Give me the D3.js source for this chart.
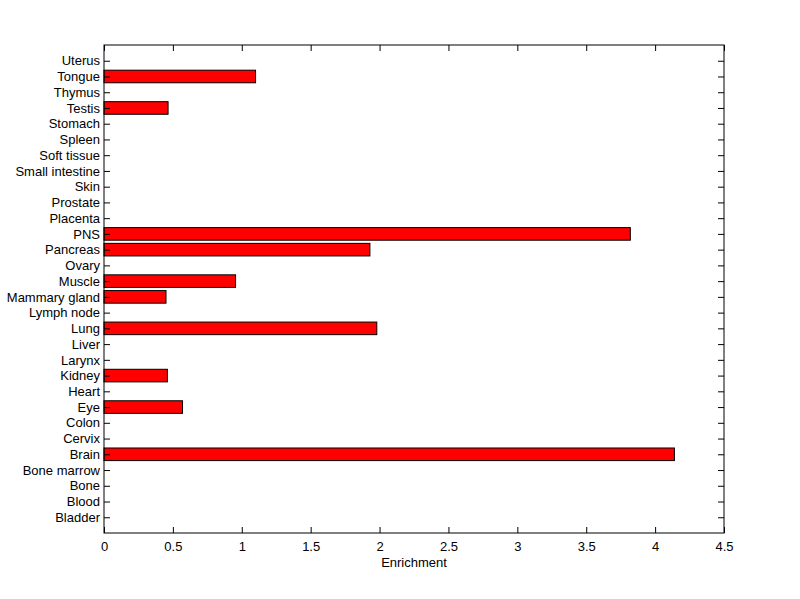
<!DOCTYPE html>
<html>
<head>
<meta charset="utf-8">
<script src="https://cdn.jsdelivr.net/npm/d3@7"></script>
<style>
    body { margin: 0; background: #fff; }
    text { font-family: "Liberation Sans", Arial, sans-serif; font-size: 13px; fill: #000; }
</style>
</head>
<body>
<div id="chart"></div>
<script>
// tissues, bottom to top
const tissues = ["Bladder", "Blood", "Bone", "Bone marrow", "Brain", "Cervix", "Colon", "Eye",
    "Heart", "Kidney", "Larynx", "Liver", "Lung", "Lymph node", "Mammary gland", "Muscle",
    "Ovary", "Pancreas", "PNS", "Placenta", "Prostate", "Skin", "Small intestine",
    "Soft tissue", "Spleen", "Stomach", "Testis", "Thymus", "Tongue", "Uterus"];

const enrichment = [0, 0, 0, 0, 4.14, 0, 0, 0.57,
    0, 0.46, 0, 0, 1.98, 0, 0.45, 0.955,
    0, 1.93, 3.82, 0, 0, 0, 0,
    0, 0, 0, 0.465, 0, 1.1, 0];

const xTicks = [0, 0.5, 1, 1.5, 2, 2.5, 3, 3.5, 4, 4.5];

let width = 800,
    height = 599;

var margin = {
    top: 45,
    right: 76,
    bottom: 66,
    left: 104
};

let innerW = width - margin.left - margin.right,
    innerH = height - margin.top - margin.bottom;

let tickLen = 6;
let barFrac = 0.8;

var svg = d3.select("#chart")
    .append("svg")
    .attr("width", width)
    .attr("height", height);

const g = svg.append("g")
    .attr("transform", "translate(" + margin.left + "," + margin.top + ")");

var x = d3.scaleLinear().domain([0, 4.5]).range([0, innerW]);
var y = d3.scaleLinear().domain([0, tissues.length + 1]).range([innerH, 0]);

let data = tissues.map((t, i) => ({ name: t, pos: i + 1, value: enrichment[i] }));
let barH = y(0) - y(barFrac);

// bars
g.selectAll("rect.bar")
    .data(data.filter(d => d.value > 0))
    .enter()
    .append("rect")
    .attr("class", "bar")
    .attr("x", x(0))
    .attr("y", d => y(d.pos + barFrac / 2))
    .attr("width", d => x(d.value) - x(0))
    .attr("height", barH)
    .style("fill", "#ff0000")
    .style("stroke", "#000")
    .style("stroke-width", 1);

// axes, ticks pointing inward
const bottomAxis = d3.axisBottom(x).tickValues(xTicks).tickSize(-tickLen).tickPadding(tickLen + 3).tickFormat(d3.format("~g"));
const topAxis = d3.axisTop(x).tickValues(xTicks).tickSize(-tickLen).tickFormat("");
const leftAxis = d3.axisLeft(y).tickValues(data.map(d => d.pos)).tickSize(-tickLen).tickPadding(4)
    .tickFormat((d, i) => tissues[i]);
const rightAxis = d3.axisRight(y).tickValues(data.map(d => d.pos)).tickSize(-tickLen).tickFormat("");

function styleAxis(sel) {
    sel.select(".domain").remove();
    sel.selectAll("line").style("stroke", "#000");
    sel.selectAll("text").style("font-size", "13px").style("font-family", "\"Liberation Sans\", Arial, sans-serif");
}

g.append("g").attr("transform", "translate(0," + innerH + ")").call(bottomAxis).call(styleAxis);
g.append("g").call(topAxis).call(styleAxis);
g.append("g").call(leftAxis).call(styleAxis);
g.append("g").attr("transform", "translate(" + innerW + ",0)").call(rightAxis).call(styleAxis);

// frame
g.append("rect")
    .attr("width", innerW)
    .attr("height", innerH)
    .style("fill", "none")
    .style("stroke", "#000")
    .style("stroke-width", 1);

// x label
g.append("text")
    .attr("x", innerW / 2)
    .attr("y", innerH + 34)
    .attr("text-anchor", "middle")
    .text("Enrichment");
</script>
</body>
</html>
